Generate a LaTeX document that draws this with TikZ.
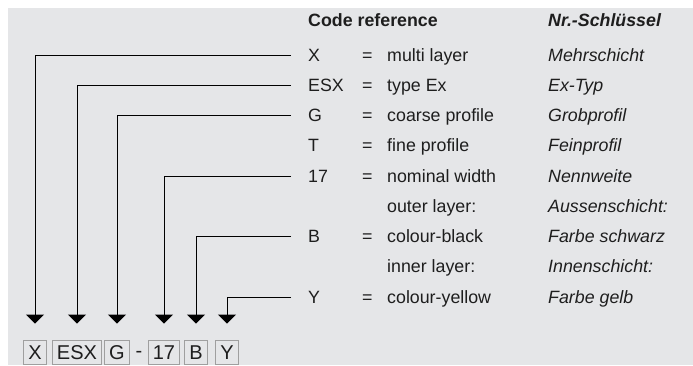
\documentclass[tikz,border=0pt]{standalone}
\usepackage{fontspec}
\setmainfont{Liberation Sans}
\usetikzlibrary{arrows.meta, positioning}
\definecolor{panelgray}{RGB}{229,230,232}
\definecolor{inkgray}{RGB}{30,30,30}
\tikzset{
  codetext/.style={anchor=base west, inner sep=0pt, text height=12pt, text depth=0pt, text=inkgray, font=\fontsize{17.8}{17.8}\selectfont},
  headtext/.style={codetext, font=\fontsize{17.8}{17.8}\selectfont\bfseries},
  detext/.style={codetext, font=\fontsize{17.8}{17.8}\selectfont\itshape},
  codebox/.style={draw=gray!75, line width=0.8pt, inner xsep=4.5pt, inner ysep=4.75pt, text height=14.5pt, text depth=0pt, text=inkgray, font=\fontsize{20}{20}\selectfont},
  lead/.style={-{Triangle[width=18pt, length=9pt]}, line width=1pt, shorten <=17pt, shorten >=16pt}
}
\begin{document}
\begin{tikzpicture}[x=1pt, y=-1pt]
        \useasboundingbox (0,0) rectangle (693,365);
        \fill [panelgray] (8,8) rectangle (693,365);
        % header
        \node (hcode) [headtext] at (308,26) {Code reference};
        \node (hde) [headtext, font=\fontsize{17.8}{17.8}\selectfont\bfseries\itshape] at (548,26) {Nr.-Schlüssel};
        % code column
        \node (cX)   [codetext] at (308,61)     {X};
        \node (cESX) [codetext] at (308,91.25)  {ESX};
        \node (cG)   [codetext] at (308,121.5)  {G};
        \node (cT)   [codetext] at (308,151.75) {T};
        \node (c17)  [codetext] at (308,182)    {17};
        \node (cB)   [codetext] at (308,242.5)  {B};
        \node (cY)   [codetext] at (308,303)    {Y};
        % equals signs
        \node (eX)   [codetext] at (362,61)     {=};
        \node (eESX) [codetext] at (362,91.25)  {=};
        \node (eG)   [codetext] at (362,121.5)  {=};
        \node (eT)   [codetext] at (362,151.75) {=};
        \node (e17)  [codetext] at (362,182)    {=};
        \node (eB)   [codetext] at (362,242.5)  {=};
        \node (eY)   [codetext] at (362,303)    {=};
        % english
        \node (dX)     [codetext] at (387,61)     {multi layer};
        \node (dESX)   [codetext] at (387,91.25)  {type Ex};
        \node (dG)     [codetext] at (387,121.5)  {coarse profile};
        \node (dT)     [codetext] at (387,151.75) {fine profile};
        \node (d17)    [codetext] at (387,182)    {nominal width};
        \node (douter) [codetext] at (387,212.25) {outer layer:};
        \node (dB)     [codetext] at (387,242.5)  {colour-black};
        \node (dinner) [codetext] at (387,272.75) {inner layer:};
        \node (dY)     [codetext] at (387,303)    {colour-yellow};
        % german
        \node (gX)     [detext] at (548,61)     {Mehrschicht};
        \node (gESX)   [detext] at (548,91.25)  {Ex-Typ};
        \node (gG)     [detext] at (548,121.5)  {Grobprofil};
        \node (gT)     [detext] at (548,151.75) {Feinprofil};
        \node (g17)    [detext] at (548,182)    {Nennweite};
        \node (gouter) [detext] at (548,212.25) {Aussenschicht:};
        \node (gB)     [detext] at (548,242.5)  {Farbe schwarz};
        \node (ginner) [detext] at (548,272.75) {Innenschicht:};
        \node (gY)     [detext] at (548,303)    {Farbe gelb};
        % order code
        \node (bX)   [codebox] at (35,352)  {X};
        \node (bESX) [codebox] at (77,352)  {ESX};
        \node (bG)   [codebox] at (117,352) {G};
        \node (bdash) [inner sep=0pt, text=inkgray, font=\fontsize{20}{20}\selectfont] at (139,354) {-};
        \node (b17)  [codebox] at (164,352) {17};
        \node (bB)   [codebox] at (196,352) {B};
        \node (bY)   [codebox] at (227,352) {Y};
        % leaders
        \draw [lead] (cX.west) -| (bX.north);
        \draw [lead] (cESX.west) -| (bESX.north);
        \draw [lead] (cG.west) -| (bG.north);
        \draw [lead] (c17.west) -| (b17.north);
        \draw [lead] (cB.west) -| (bB.north);
        \draw [lead] (cY.west) -| (bY.north);
\end{tikzpicture}
\end{document}
